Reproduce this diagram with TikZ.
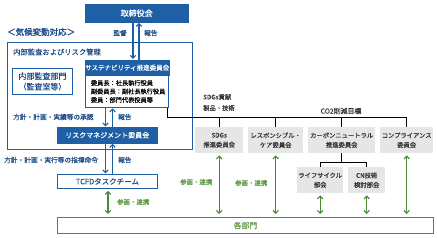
\documentclass[tikz,border=0pt]{standalone}
\usepackage{fontspec}
\setmainfont{Noto Sans CJK JP}
\newfontfamily\cjkbold[FakeBold=1.5]{Noto Sans CJK JP}
\newfontfamily\cjkmed[FakeBold=0.4]{Noto Sans CJK JP}
\usetikzlibrary{arrows.meta}
\definecolor{mblue}{HTML}{1F5FA6}
\definecolor{tblue}{HTML}{1F4E89}
\definecolor{mgreen}{HTML}{4C8A3A}
\definecolor{tgreen}{HTML}{5E9A48}
\definecolor{lgray}{HTML}{E6E6E6}
\definecolor{dgray}{HTML}{333333}
\tikzset{
  bluefill/.style={fill=mblue, draw=mblue, text=white, inner sep=0pt, anchor=north west},
  blueline/.style={draw=mblue, line width=0.9pt, fill=white, inner sep=0pt, anchor=north west},
  graybox/.style={fill=lgray, inner sep=0pt, anchor=north west, align=center, text=dgray, font=\cjkmed\fontsize{6.3}{9.5}\selectfont},
  lbl/.style={text=tblue, inner sep=0pt, font=\cjkmed\fontsize{6.7}{8}\selectfont},
  glbl/.style={text=tgreen, inner sep=0pt, font=\cjkmed\fontsize{6.4}{8}\selectfont},
  darr/.style={draw=mblue, line width=1.1pt, -{Straight Barb[length=2.8pt,width=5.5pt]}},
  garr/.style={draw=mgreen, line width=1.1pt, {Straight Barb[length=2.8pt,width=5.5pt]}-{Straight Barb[length=2.8pt,width=5.5pt]}},
  blk/.style={draw=black, line width=0.8pt}
}
\begin{document}
\begin{tikzpicture}[x=1pt,y=-1pt]
\useasboundingbox (0,0) rectangle (437,238);
% top
\node[bluefill, minimum width=103pt, minimum height=18pt, font=\cjkmed\fontsize{8}{9}\selectfont] (tori) at (85,4) {取締役会};
\node[text=tblue, inner sep=0pt, anchor=west, font=\cjkbold\fontsize{8.5}{10}\selectfont] (title) at (7,32) {＜気候変動対応＞};
% outer box
\node[draw=mblue, line width=1pt, inner sep=0pt, anchor=north west, minimum width=185pt, minimum height=107pt] (outer) at (7,42) {};
\node[text=tblue, inner sep=0pt, anchor=west, font=\cjkmed\fontsize{7.3}{9}\selectfont] (outerlbl) at (13,52) {内部監査およびリスク管理};
% internal audit
\node[blueline, minimum width=60pt, minimum height=26pt, align=center, text=tblue, font=\cjkmed\fontsize{8}{10.5}\selectfont] (audit) at (12,68) {内部監査部門\\（監査室等）};
% sustainability committee
\node[blueline, minimum width=83pt, minimum height=32pt, align=left, text=black, text width=72pt, inner xsep=5.5pt, font=\cjkmed\fontsize{6.2}{8.5}\selectfont] (susbody) at (85,75) {委員長：社長執行役員\\副委員長：副社長執行役員\\委員：部門代表役員等};
\node[bluefill, minimum width=83pt, minimum height=15pt, font=\cjkmed\fontsize{6.5}{8}\selectfont] (sushead) at (85,60) {サステナビリティ推進委員会};
% risk and TCFD
\node[bluefill, minimum width=100pt, minimum height=16pt, font=\cjkmed\fontsize{7}{8}\selectfont] (risk) at (57,127) {リスクマネジメント委員会};
\node[blueline, minimum width=100pt, minimum height=14pt, text=tblue, font=\cjkmed\fontsize{7.5}{8}\selectfont] (tcfd) at (57,174) {TCFDタスクチーム};
% departments
\node[draw=mgreen, line width=1pt, inner sep=0pt, anchor=north west, minimum width=376pt, minimum height=16pt, text=tgreen, font=\cjkmed\fontsize{7.8}{9}\selectfont] (bumon) at (57,217) {各部門};
% gray committees
\node[graybox, minimum width=48pt, minimum height=26pt] (sdgs) at (195,127) {SDGs\\推進委員会};
\node[graybox, minimum width=55pt, minimum height=26pt] (resp) at (248,127) {レスポンシブル・\\ケア委員会};
\node[graybox, minimum width=67pt, minimum height=26pt] (cn) at (308,127) {カーボンニュートラル\\推進委員会};
\node[graybox, minimum width=53pt, minimum height=26pt] (comp) at (380,127) {コンプライアンス\\委員会};
\node[graybox, minimum width=46pt, minimum height=26pt] (life) at (297,167) {ライフサイクル\\部会};
\node[graybox, minimum width=37pt, minimum height=26pt] (cnt) at (348,167) {CN技術\\検討部会};
% labels
\node[lbl, anchor=east] (l1) at (127,33) {監督};
\node[lbl, anchor=west] (l2) at (144,33) {報告};
\node[lbl, anchor=west] (l3) at (13,117) {方針・計画・実績等の承認};
\node[lbl, anchor=west] (l4) at (118,117) {報告};
\node[lbl, anchor=west] (l5) at (4,160) {方針・計画・実行等の指揮命令};
\node[lbl, anchor=west] (l6) at (118,160) {報告};
\node[inner sep=0pt, anchor=west, text=dgray, align=left, font=\cjkmed\fontsize{6.3}{11}\selectfont] (sdgl) at (203,102.5) {SDGs貢献\\製品・技術};
\node[inner sep=0pt, text=dgray, font=\cjkmed\fontsize{6.9}{8}\selectfont] (co2) at (341,111) {CO2削減目標};
\node[glbl, anchor=west] (g1) at (117,202) {参画・連携};
\node[glbl, anchor=west] (g2) at (180,182) {参画・連携};
\node[glbl, anchor=west] (g3) at (235,183) {参画・連携};
% coordinates
\coordinate (a1) at (133,0);
\coordinate (a2) at (139,0);
\coordinate (b1) at (105.5,0);
\coordinate (b2) at (112.5,0);
\coordinate (gx) at (108,0);
\coordinate (k0) at (167,117);
\coordinate (k4) at (406.5,117);
\coordinate (c1) at (0,162);
% blue arrows
\draw[darr, shorten >=1pt] (tori.south -| a1) -- (sushead.north -| a1);
\draw[darr, shorten >=0.5pt] (sushead.north -| a2) -- (tori.south -| a2);
\draw[darr, shorten >=0.5pt] (susbody.south -| b1) -- (risk.north -| b1);
\draw[darr, shorten >=0.5pt] (risk.north -| b2) -- (susbody.south -| b2);
\draw[darr, shorten >=0.5pt] (risk.south -| b1) -- (tcfd.north -| b1);
\draw[darr, shorten >=0.5pt] (tcfd.north -| b2) -- (risk.south -| b2);
% black lines
\draw[blk] (susbody.south -| k0) -- (k0) -- (k4);
\draw[blk] (sdgs.north |- k0) -- (sdgs.north);
\draw[blk] (resp.north |- k0) -- (resp.north);
\draw[blk] (cn.north |- k0) -- (cn.north);
\draw[blk] (comp.north |- k0) -- (comp.north);
\draw[blk] (cn.south) -- (cn.south |- c1);
\draw[blk] (life.north) -- (life.north |- c1) -- (cnt.north |- c1) -- (cnt.north);
% green arrows
\draw[garr, shorten <=2pt, shorten >=3pt] (tcfd.south -| gx) -- (bumon.north -| gx);
\draw[garr, shorten <=2pt, shorten >=3pt] (sdgs.south) -- (sdgs.south |- bumon.north);
\draw[garr, shorten <=2pt, shorten >=3pt] (resp.south) -- (resp.south |- bumon.north);
\draw[garr, shorten <=2pt, shorten >=3pt] (life.south) -- (life.south |- bumon.north);
\draw[garr, shorten <=2pt, shorten >=3pt] (cnt.south) -- (cnt.south |- bumon.north);
\draw[garr, shorten <=2pt, shorten >=3pt] (comp.south) -- (comp.south |- bumon.north);
\end{tikzpicture}
\end{document}
